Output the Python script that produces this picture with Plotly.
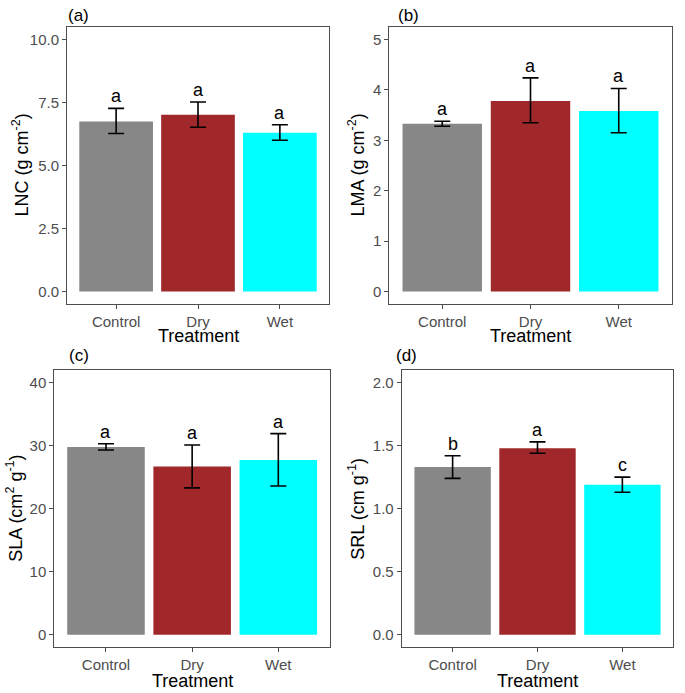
import plotly.graph_objects as go
from plotly.subplots import make_subplots

categories = ["Control", "Dry", "Wet"]
bar_colors = ["#878787", "#A0282A", "#00FFFF"]

lnc_mean = [6.75, 7.02, 6.30]
lnc_low = [6.27, 6.52, 6.00]
lnc_high = [7.27, 7.52, 6.62]
lnc_letters = ["a", "a", "a"]

lma_mean = [3.33, 3.78, 3.58]
lma_low = [3.28, 3.35, 3.15]
lma_high = [3.38, 4.24, 4.03]
lma_letters = ["a", "a", "a"]

sla_mean = [29.8, 26.7, 27.7]
sla_low = [29.3, 23.3, 23.6]
sla_high = [30.3, 30.1, 31.9]
sla_letters = ["a", "a", "a"]

srl_mean = [1.33, 1.48, 1.19]
srl_low = [1.24, 1.44, 1.13]
srl_high = [1.42, 1.53, 1.25]
srl_letters = ["b", "a", "c"]

y_titles = ["LNC (g cm<sup>-2</sup>)", "LMA (g cm<sup>-2</sup>)",
            "SLA (cm<sup>2</sup> g<sup>-1</sup>)", "SRL (cm g<sup>-1</sup>)"]
panel_tags = ["(a)", "(b)", "(c)", "(d)"]
y_ticks = [[0, 2.5, 5, 7.5, 10], [0, 1, 2, 3, 4, 5], [0, 10, 20, 30, 40], [0, 0.5, 1, 1.5, 2]]
y_ticktext = [["0.0", "2.5", "5.0", "7.5", "10.0"], ["0", "1", "2", "3", "4", "5"],
              ["0", "10", "20", "30", "40"], ["0.0", "0.5", "1.0", "1.5", "2.0"]]
y_ranges = [[-0.5, 10.5], [-0.25, 5.25], [-2, 42], [-0.1, 2.1]]

W, H = 685, 693
FONT = "Liberation Sans, Arial, sans-serif"

# panel pixel boxes: (left, right, top, bottom)
boxes = [(67, 329, 27, 304), (389.3, 671.7, 27, 304),
         (54.3, 330, 370, 647.3), (401.7, 673.3, 370, 647.3)]
ytitle_x = [21, 357, 15, 357]
xtitle_y = [336, 336, 681, 681]
tag_pos = [(66, 15), (396, 15), (67, 355), (394, 355)]

datasets = [
    (lnc_mean, lnc_low, lnc_high, lnc_letters),
    (lma_mean, lma_low, lma_high, lma_letters),
    (sla_mean, sla_low, sla_high, sla_letters),
    (srl_mean, srl_low, srl_high, srl_letters),
]

fig = make_subplots(rows=2, cols=2)
annotations = []
for i, (mean, low, high, letters) in enumerate(datasets):
    r, c = i // 2 + 1, i % 2 + 1
    fig.add_trace(go.Bar(
        x=categories, y=mean,
        marker=dict(color=bar_colors, line=dict(width=0)),
        error_y=dict(type="data", symmetric=False,
                     array=[h - m for h, m in zip(high, mean)],
                     arrayminus=[m - l for m, l in zip(mean, low)],
                     color="black", thickness=1.6, width=8),
        showlegend=False, hoverinfo="skip"), row=r, col=c)
    sfx = "" if i == 0 else str(i + 1)
    for cat, hv, lt in zip(categories, high, letters):
        annotations.append(dict(x=cat, y=hv, xref="x" + sfx, yref="y" + sfx,
                                text=lt, showarrow=False, yanchor="bottom",
                                yshift=0, font=dict(family=FONT, size=18, color="black")))
    L, R, T, B = boxes[i]
    fig.layout["xaxis" + sfx].update(
        domain=[L / W, R / W], range=[-0.6, 2.6], showline=True, mirror=True,
        linecolor="#4d4d4d", linewidth=1, ticks="outside", ticklen=4, tickcolor="#4d4d4d",
        showgrid=False, zeroline=False,
        tickfont=dict(family=FONT, size=15, color="#4d4d4d"))
    fig.layout["yaxis" + sfx].update(
        domain=[1 - B / H, 1 - T / H], range=y_ranges[i], showline=True, mirror=True,
        linecolor="#4d4d4d", linewidth=1, ticks="outside", ticklen=4, tickcolor="#4d4d4d",
        showgrid=False, zeroline=False, tickvals=y_ticks[i], ticktext=y_ticktext[i],
        tickfont=dict(family=FONT, size=15, color="#4d4d4d"))
    # axis titles
    annotations.append(dict(x=ytitle_x[i] / W, y=1 - ((T + B) / 2) / H, xref="paper", yref="paper",
                            text=y_titles[i], textangle=-90, showarrow=False,
                            xanchor="center", yanchor="middle",
                            font=dict(family=FONT, size=18, color="black")))
    annotations.append(dict(x=((L + R) / 2) / W, y=1 - xtitle_y[i] / H, xref="paper", yref="paper",
                            text="Treatment", showarrow=False, xanchor="center", yanchor="middle",
                            font=dict(family=FONT, size=18, color="black")))
    annotations.append(dict(x=tag_pos[i][0] / W, y=1 - tag_pos[i][1] / H, xref="paper", yref="paper",
                            text=panel_tags[i], showarrow=False, xanchor="left", yanchor="middle",
                            font=dict(family=FONT, size=17, color="black")))

fig.update_layout(width=W, height=H, margin=dict(l=0, r=0, t=0, b=0),
                  paper_bgcolor="white", plot_bgcolor="white", bargap=0.1,
                  annotations=annotations, font=dict(family=FONT))
fig.write_html("out.html", config={"displayModeBar": False},
               post_script="document.body.style.margin='0px';document.body.style.overflow='hidden';")
